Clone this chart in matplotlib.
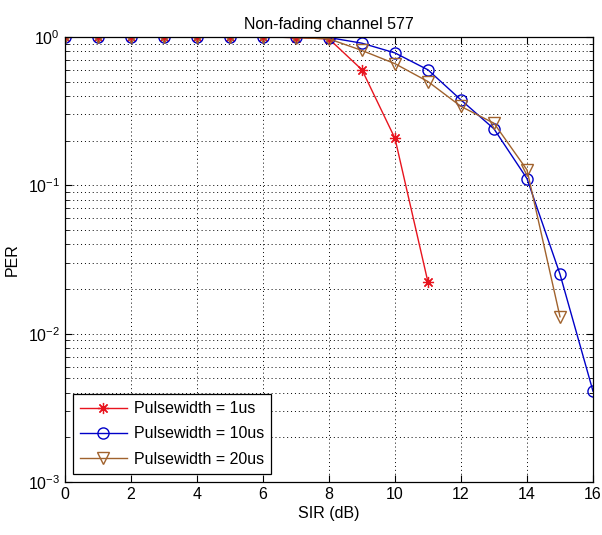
import matplotlib
matplotlib.use("Agg")
import matplotlib.pyplot as plt
from matplotlib.ticker import LogLocator, FixedLocator

plt.rcParams['font.family'] = ['Liberation Sans', 'DejaVu Sans']
plt.rcParams['mathtext.default'] = 'regular'

sir = list(range(0, 17))
per_1us = [1, 1, 1, 1, 1, 1, 1, 0.99, 0.97, 0.60, 0.207, 0.0222]
per_10us = [1, 1, 1, 1, 1, 1, 1, 1, 0.99, 0.907, 0.78, 0.60, 0.376, 0.24, 0.111, 0.0252, 0.0041]
per_20us = [1, 1, 1, 1, 1, 1, 1, 0.99, 0.97, 0.81, 0.66, 0.50, 0.34, 0.262, 0.127, 0.013]

labels = ['Pulsewidth = 1us', 'Pulsewidth = 10us', 'Pulsewidth = 20us']
title = 'Non-fading channel 577'

fig = plt.figure(figsize=(6.02, 5.35), dpi=100)
ax = fig.add_axes([0.108, 0.099, 0.877, 0.832])

# asterisk marker: eight spokes, like a plus over a cross
asterisk = (8, 2, 0)
ax.semilogy(sir[:len(per_1us)], per_1us, color='#e8141e', marker=asterisk, ms=8,
            mew=0.9, lw=1.0, label=labels[0])
ax.semilogy(sir[:len(per_10us)], per_10us, color='#0000c8', marker='o', ms=8,
            mfc='none', lw=1.0, label=labels[1])
ax.semilogy(sir[:len(per_20us)], per_20us, color='#a0622d', marker='v', ms=9,
            mfc='none', lw=1.0, label=labels[2])

ax.set_xlim(0, 16)
ax.set_ylim(1e-3, 1)
ax.xaxis.set_major_locator(FixedLocator(range(0, 17, 2)))
ax.yaxis.set_major_locator(LogLocator(base=10, numticks=10))
ax.yaxis.set_minor_locator(LogLocator(base=10, subs=range(2, 10), numticks=10))

ax.grid(True, which='major', axis='x', color='black', ls=(0, (1, 3)), lw=0.7)
ax.grid(True, which='both', axis='y', color='black', ls=(0, (1, 3)), lw=0.7)

ax.tick_params(which='both', direction='in', top=True, right=True, labelsize=11.5)
ax.tick_params(which='major', length=5)
ax.tick_params(which='minor', length=3)
for s in ax.spines.values():
    s.set_linewidth(0.9)

ax.set_title(title, fontsize=11.5, pad=6)
ax.set_xlabel('SIR (dB)', fontsize=11.5, labelpad=3)
ax.set_ylabel('PER', fontsize=11.5, labelpad=6)

leg = ax.legend(loc='lower left', fontsize=11.5, fancybox=False, edgecolor='black',
                framealpha=1, borderaxespad=0.5, handlelength=2.9,
                labelspacing=0.65, borderpad=0.45, handletextpad=0.45)
leg.get_frame().set_linewidth(0.9)

fig.savefig('out.png', dpi=100)
